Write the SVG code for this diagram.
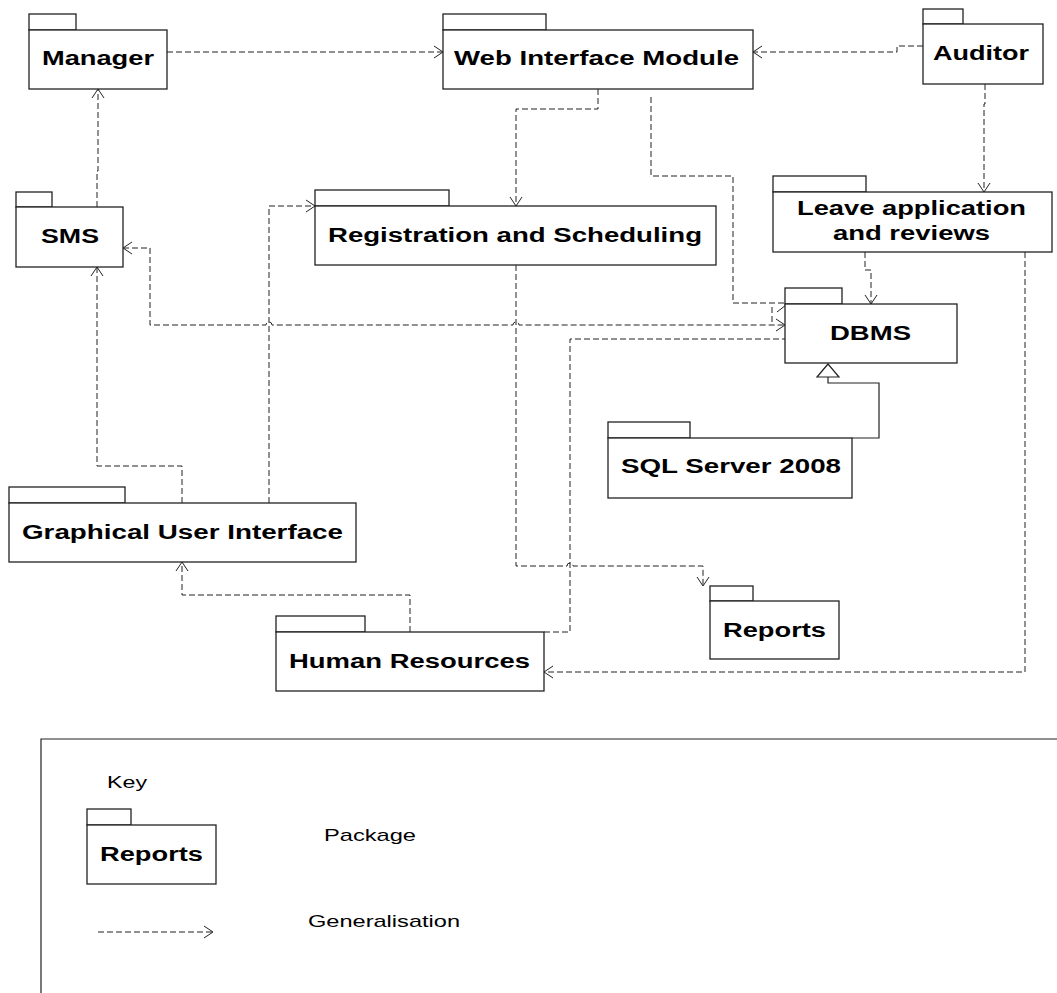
<svg xmlns="http://www.w3.org/2000/svg" width="1057" height="993" viewBox="0 0 1057 993">
<defs>
<style>
.box{fill:#fff;stroke:#222;stroke-width:1.3}
.lbl{font-family:"Liberation Sans",Arial,sans-serif;font-weight:bold;font-size:20px;fill:#000}
.txt{font-family:"Liberation Sans",Arial,sans-serif;font-size:17px;fill:#000}
.dep{fill:none;stroke:#222;stroke-width:1;stroke-dasharray:6 3}
.sol{fill:none;stroke:#222;stroke-width:1.2}
.head{fill:none;stroke:#222;stroke-width:1}
</style>
<marker id="arr" markerUnits="userSpaceOnUse" markerWidth="12" markerHeight="14" refX="10" refY="7" orient="auto-start-reverse">
<path d="M1,1 L10,7 L1,13" fill="none" stroke="#222" stroke-width="1"/>
</marker>
</defs>
<rect width="1057" height="993" fill="#fff"/>

<g id="connectors">
<path class="dep" d="M167,52 H443" marker-end="url(#arr)"/>
<path class="dep" d="M923,46 H897 V52 H753" marker-end="url(#arr)"/>
<path class="dep" d="M985,84 V104 H984 V192" marker-end="url(#arr)"/>
<path class="dep" d="M598,89 V109 H516 V206" marker-end="url(#arr)"/>
<path class="dep" d="M651,97 V176 H733 V303 H785"/>
<path class="dep" d="M772,307 V324"/>
<path class="head" d="M777,312 L786,305 L794,312"/>
<path class="dep" d="M865,252 V270 H871 V304" marker-end="url(#arr)"/>
<path class="dep" d="M1025,252 V672 H544" marker-end="url(#arr)"/>
<path class="dep" d="M123,248 H150 V325 H266 a3,3 0 0 1 6,0 H513 a3,3 0 0 1 6,0 H785" marker-start="url(#arr)" marker-end="url(#arr)"/>
<path class="dep" d="M182,503 V466 H97 V267" marker-end="url(#arr)"/>
<path class="dep" d="M269,503 V206 H315" marker-end="url(#arr)"/>
<path class="dep" d="M97,207 V171 H98 V89" marker-end="url(#arr)"/>
<path class="dep" d="M516,265 V566 H567 a3,3 0 0 1 6,0 H703 V586" marker-end="url(#arr)"/>
<path class="dep" d="M544,632 H570 V339 H785"/>
<path class="dep" d="M410,632 V595 H182 V562" marker-end="url(#arr)"/>
<path class="sol" d="M852,438 H879 V383 H828 V377"/>
<path class="sol" d="M828,364 L817,377 H839 Z" fill="#fff"/>
</g>

<g id="manager">
<rect class="box" x="29" y="14" width="47" height="16"/>
<rect class="box" x="29" y="30" width="138" height="59"/>
<text class="lbl" x="42" y="65" textLength="112" lengthAdjust="spacingAndGlyphs">Manager</text>
</g>
<g id="web-interface-module">
<rect class="box" x="443" y="14" width="103" height="16"/>
<rect class="box" x="443" y="30" width="310" height="59"/>
<text class="lbl" x="454" y="65" textLength="285" lengthAdjust="spacingAndGlyphs">Web Interface Module</text>
</g>
<g id="auditor">
<rect class="box" x="923" y="9" width="40" height="15"/>
<rect class="box" x="923" y="24" width="120" height="60"/>
<text class="lbl" x="933" y="60" textLength="96" lengthAdjust="spacingAndGlyphs">Auditor</text>
</g>
<g id="sms">
<rect class="box" x="16" y="192" width="36" height="15"/>
<rect class="box" x="16" y="207" width="107" height="60"/>
<text class="lbl" x="41" y="243" textLength="58" lengthAdjust="spacingAndGlyphs">SMS</text>
</g>
<g id="registration">
<rect class="box" x="315" y="190" width="134" height="16"/>
<rect class="box" x="315" y="206" width="401" height="59"/>
<text class="lbl" x="328" y="242" textLength="374" lengthAdjust="spacingAndGlyphs">Registration and Scheduling</text>
</g>
<g id="leave">
<rect class="box" x="773" y="176" width="93" height="16"/>
<rect class="box" x="773" y="192" width="279" height="60"/>
<text class="lbl" x="797" y="215" textLength="229" lengthAdjust="spacingAndGlyphs">Leave application</text>
<text class="lbl" x="833" y="240" textLength="157" lengthAdjust="spacingAndGlyphs">and reviews</text>
</g>
<g id="dbms">
<rect class="box" x="785" y="288" width="57" height="16"/>
<rect class="box" x="785" y="304" width="172" height="59"/>
<text class="lbl" x="830" y="340" textLength="81" lengthAdjust="spacingAndGlyphs">DBMS</text>
</g>
<g id="sql-server">
<rect class="box" x="608" y="422" width="82" height="16"/>
<rect class="box" x="608" y="438" width="244" height="60"/>
<text class="lbl" x="621" y="473" textLength="220" lengthAdjust="spacingAndGlyphs">SQL Server 2008</text>
</g>
<g id="gui">
<rect class="box" x="9" y="487" width="116" height="16"/>
<rect class="box" x="9" y="503" width="347" height="59"/>
<text class="lbl" x="22" y="539" textLength="321" lengthAdjust="spacingAndGlyphs">Graphical User Interface</text>
</g>
<g id="human-resources">
<rect class="box" x="276" y="616" width="89" height="16"/>
<rect class="box" x="276" y="632" width="268" height="59"/>
<text class="lbl" x="289" y="668" textLength="241" lengthAdjust="spacingAndGlyphs">Human Resources</text>
</g>
<g id="reports">
<rect class="box" x="710" y="586" width="43" height="15"/>
<rect class="box" x="710" y="601" width="129" height="58"/>
<text class="lbl" x="723" y="637" textLength="103" lengthAdjust="spacingAndGlyphs">Reports</text>
</g>

<g id="legend">
<path d="M41,993 V739 H1057" fill="none" stroke="#222" stroke-width="1.2"/>
<text class="txt" x="107" y="788" textLength="40" lengthAdjust="spacingAndGlyphs">Key</text>
<rect class="box" x="87" y="809" width="44" height="16"/>
<rect class="box" x="87" y="825" width="129" height="59"/>
<text class="lbl" x="100" y="861" textLength="103" lengthAdjust="spacingAndGlyphs">Reports</text>
<text class="txt" x="324" y="841" textLength="92" lengthAdjust="spacingAndGlyphs">Package</text>
<path class="dep" d="M98,932 H213" marker-end="url(#arr)"/>
<text class="txt" x="308" y="927" textLength="152" lengthAdjust="spacingAndGlyphs">Generalisation</text>
</g>
</svg>
